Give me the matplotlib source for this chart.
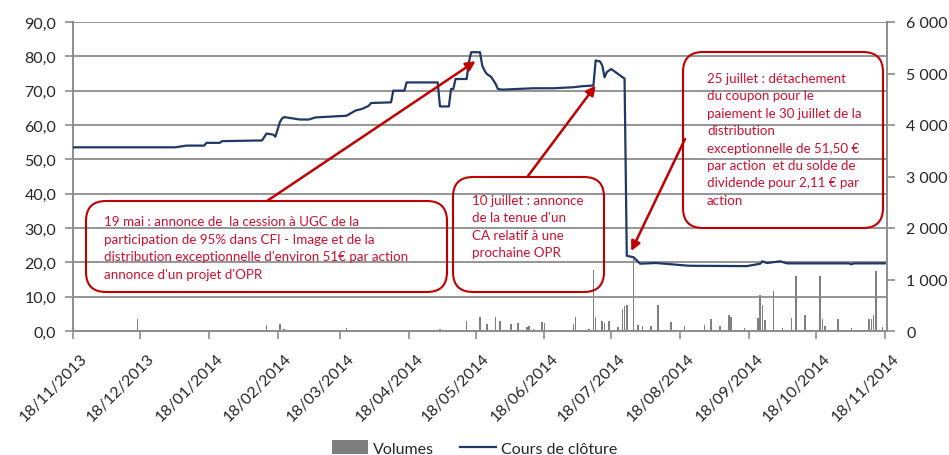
import matplotlib
matplotlib.use('Agg')
import matplotlib.pyplot as plt
import matplotlib.dates as mdates
import matplotlib.transforms as mtransforms
from matplotlib.patches import FancyBboxPatch, Patch
from matplotlib.lines import Line2D
import pandas as pd

# ---------------- data ----------------
price_dates = [
    "2013-11-18", "2014-01-03", "2014-01-08", "2014-01-16", "2014-01-17", "2014-01-23",
    "2014-01-24", "2014-02-11", "2014-02-13", "2014-02-16", "2014-02-17", "2014-02-19",
    "2014-02-20", "2014-02-21", "2014-02-28", "2014-03-04", "2014-03-07", "2014-03-21",
    "2014-03-25", "2014-03-28", "2014-03-31", "2014-04-01", "2014-04-10", "2014-04-11",
    "2014-04-16", "2014-04-17", "2014-05-01", "2014-05-02", "2014-05-06", "2014-05-07",
    "2014-05-08", "2014-05-09", "2014-05-14", "2014-05-15", "2014-05-16", "2014-05-20",
    "2014-05-21", "2014-05-22", "2014-05-23", "2014-05-25", "2014-05-27", "2014-05-28",
    "2014-05-30", "2014-06-13", "2014-06-22", "2014-07-01", "2014-07-05", "2014-07-10",
    "2014-07-11", "2014-07-13", "2014-07-14", "2014-07-15", "2014-07-16", "2014-07-18",
    "2014-07-21", "2014-07-24", "2014-07-25", "2014-07-28", "2014-07-31", "2014-08-07",
    "2014-08-11", "2014-08-22", "2014-09-17", "2014-09-23", "2014-09-24", "2014-09-26",
    "2014-10-02", "2014-10-05", "2014-11-02", "2014-11-03", "2014-11-04", "2014-11-18",
]
price_values = [
    53.5, 53.5, 54.0, 54.0, 54.8, 54.8,
    55.3, 55.5, 57.5, 57.2, 56.6, 60.8,
    61.9, 62.3, 61.6, 61.6, 62.2, 62.7,
    64.2, 64.7, 65.6, 66.4, 66.6, 70.0,
    70.0, 72.4, 72.4, 65.4, 65.4, 70.5,
    70.5, 73.4, 73.4, 78.3, 81.2, 81.2,
    77.3, 75.9, 74.9, 74.0, 72.0, 70.5,
    70.3, 70.7, 70.7, 71.0, 71.3, 71.5,
    78.8, 78.5, 77.3, 73.9, 75.4, 76.3,
    74.9, 73.5, 21.9, 21.5, 19.6, 19.8,
    19.6, 19.0, 18.9, 19.6, 20.3, 19.8,
    20.3, 19.7, 19.7, 19.4, 19.7, 19.7,
]

volume_dates = [
    "2013-12-17", "2014-02-13", "2014-02-19", "2014-02-21", "2014-02-28", "2014-03-21",
    "2014-03-28", "2014-05-02", "2014-05-14", "2014-05-20", "2014-05-23", "2014-05-27",
    "2014-05-29", "2014-06-03", "2014-06-06", "2014-06-10", "2014-06-11", "2014-06-13",
    "2014-06-17", "2014-06-18", "2014-06-23", "2014-07-01", "2014-07-02", "2014-07-08",
    "2014-07-10", "2014-07-11", "2014-07-14", "2014-07-15", "2014-07-17", "2014-07-21",
    "2014-07-23", "2014-07-24", "2014-07-25", "2014-07-28", "2014-07-30", "2014-08-01",
    "2014-08-05", "2014-08-08", "2014-08-14", "2014-08-20", "2014-08-29", "2014-09-01",
    "2014-09-05", "2014-09-09", "2014-09-10", "2014-09-16", "2014-09-22", "2014-09-23",
    "2014-09-24", "2014-09-25", "2014-09-29", "2014-10-03", "2014-10-07", "2014-10-09",
    "2014-10-13", "2014-10-20", "2014-10-21", "2014-10-22", "2014-10-28", "2014-11-03",
    "2014-11-11", "2014-11-12", "2014-11-13", "2014-11-14", "2014-11-17",
]
volume_values = [
    230, 110, 130, 30, 15, 60,
    20, 40, 195, 280, 130, 280,
    195, 130, 150, 85, 100, 30,
    175, 150, 20, 130, 280, 40,
    1180, 270, 185, 160, 200, 80,
    430, 490, 500, 1400, 120, 100,
    90, 500, 180, 100, 110, 230,
    100, 320, 280, 60, 250, 700,
    500, 210, 770, 60, 260, 1070,
    310, 1070, 230, 95, 240, 60,
    240, 240, 310, 1170, 80,
]

tick_labels = [
    "18/11/2013", "18/12/2013", "18/01/2014", "18/02/2014", "18/03/2014", "18/04/2014",
    "18/05/2014", "18/06/2014", "18/07/2014", "18/08/2014", "18/09/2014", "18/10/2014",
    "18/11/2014",
]

legend_labels = ["Volumes", "Cours de clôture"]

note1 = ["19 mai : annonce de  la cession à UGC de la",
         "participation de 95% dans CFI - Image et de la",
         "distribution exceptionnelle d'environ 51€ par action",
         "annonce d'un projet d'OPR"]
note2 = ["10 juillet : annonce",
         "de la tenue d'un",
         "CA relatif à une",
         "prochaine OPR"]
note3 = ["25 juillet : détachement",
         "du coupon pour le",
         "paiement le 30 juillet de la",
         "distribution",
         "exceptionnelle de 51,50 €",
         "par action  et du solde de",
         "dividende pour 2,11 € par",
         "action"]
note_targets = [("2014-05-18", 78.6), ("2014-07-11", 71.5), ("2014-07-27", 23.3)]

# ---------------- style ----------------
plt.rcParams['font.family'] = ['Lato', 'DejaVu Sans']
NAVY = '#1f3864'
GREY = '#7f7f7f'
GRID = '#8c8c8c'
RED = '#c00000'
TXTRED = '#cc1030'
LABEL = '#262626'

fig = plt.figure(figsize=(9.49, 4.56), dpi=100)
ax = fig.add_axes([73 / 949, 1 - 332 / 456, 814 / 949, 309 / 456])
axv = ax.twinx()
ax.set_zorder(2)
ax.patch.set_visible(False)

pdates = mdates.date2num(pd.to_datetime(price_dates).to_pydatetime())
vdates = mdates.date2num(pd.to_datetime(volume_dates).to_pydatetime())
tdates = mdates.date2num(pd.to_datetime(tick_labels, format="%d/%m/%Y").to_pydatetime())

axv.bar(vdates, volume_values, width=0.75, color=GREY, linewidth=0)
ax.plot(pdates, price_values, color=NAVY, lw=1.6, zorder=3)

ax.set_ylim(0, 90)
axv.set_ylim(0, 6000)
ax.set_xlim(mdates.datestr2num("2013-11-18"), mdates.datestr2num("2014-11-19"))

yt = list(range(0, 91, 10))
ax.set_yticks(yt)
ax.set_yticklabels([f"{v:.1f}".replace('.', ',') for v in yt])
vt = list(range(0, 6001, 1000))
axv.set_yticks(vt)
axv.set_yticklabels([f"{v:,}".replace(',', ' ') for v in vt])

ax.set_xticks(tdates)
ax.set_xticklabels(tick_labels, rotation=45, ha='right', va='top', rotation_mode='anchor')

ax.grid(axis='y', color=GRID, lw=1.3, zorder=0)
ax.set_axisbelow(True)

for a in (ax, axv):
    for s in a.spines.values():
        s.set_color(GRID)
        s.set_linewidth(1.2)
    a.spines['top'].set_visible(False)
    a.tick_params(colors=GRID, labelcolor=LABEL, labelsize=11.5, length=6, width=1.2)
ax.tick_params(axis='x', pad=8)
ax.tick_params(axis='y', pad=6)
axv.tick_params(axis='y', pad=8)

offset = mtransforms.ScaledTranslation(0.07, 0, fig.dpi_scale_trans)
for lbl in ax.get_xticklabels():
    lbl.set_transform(lbl.get_transform() + offset)

# ---------------- overlay for annotation boxes (pixel coordinates) ----------------
ov = fig.add_axes([0, 0, 1, 1])
ov.set_xlim(0, 949)
ov.set_ylim(456, 0)
ov.axis('off')
ov.set_zorder(10)

boxes = [
    ((86, 202), 361, 91, (104, 222), 17.6, note1, (267, 202)),
    ((453, 178), 151, 115, (472, 201), 17.3, note2, (528, 177)),
    ((683, 53), 200, 176, (707, 79), 17.4, note3, (685, 140)),
]
for (xy, w, h, txy, dy, lines, tail), (tdate, tval) in zip(boxes, note_targets):
    ov.add_patch(FancyBboxPatch(xy, w, h, boxstyle='round,pad=0,rounding_size=20',
                                fill=False, edgecolor=RED, lw=1.5))
    for i, line in enumerate(lines):
        ov.text(txy[0], txy[1] + i * dy, line, fontsize=9.6, color=TXTRED,
                ha='left', va='center')
    ov.annotate('', xy=(mdates.datestr2num(tdate), tval), xycoords=ax.transData,
                xytext=tail, textcoords='data',
                arrowprops=dict(arrowstyle='-|>', color=RED, lw=1.8,
                                mutation_scale=14, shrinkA=0, shrinkB=0))

handles = [Patch(facecolor=GREY, edgecolor='none'), Line2D([], [], color=NAVY, lw=1.6)]
fig.legend(handles, legend_labels, loc='center', bbox_to_anchor=(0.5, 1 - 449 / 456),
           ncol=2, frameon=False, fontsize=11.5, handlelength=2.3, handleheight=1.0,
           columnspacing=1.6, handletextpad=0.3, labelcolor=LABEL)

fig.savefig('out.png', dpi=100)
